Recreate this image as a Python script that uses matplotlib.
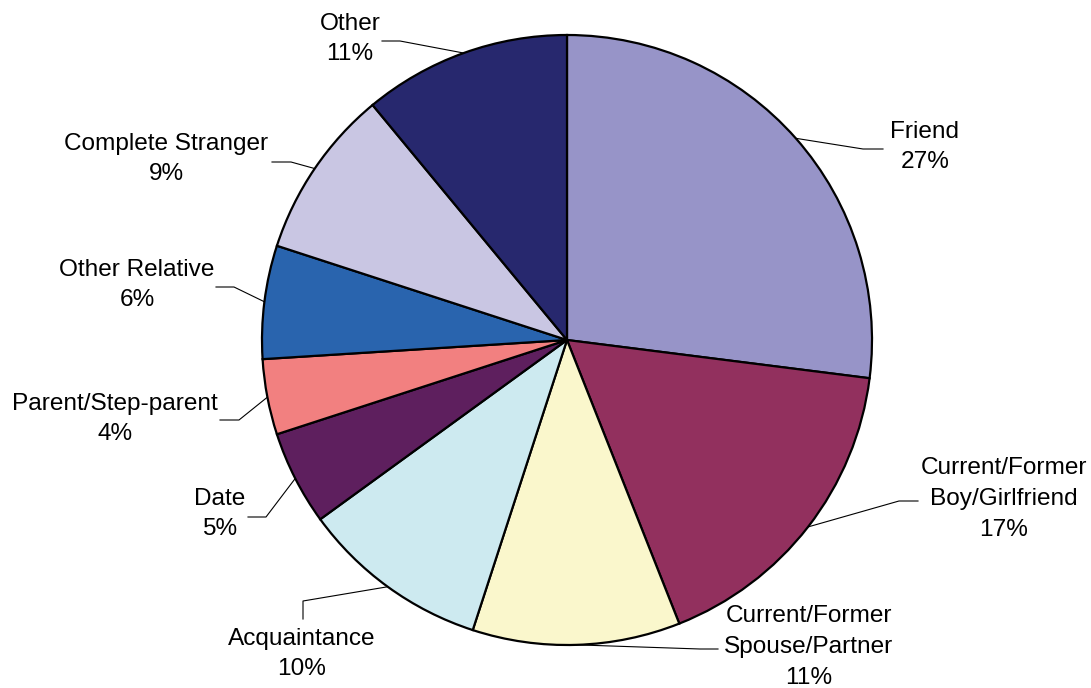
import numpy as np
import matplotlib.pyplot as plt

plt.rcParams['font.family'] = ['Liberation Sans', 'DejaVu Sans']

labels = ['Friend', 'Current/Former\nBoy/Girlfriend', 'Current/Former\nSpouse/Partner',
          'Acquaintance', 'Date', 'Parent/Step-parent', 'Other Relative',
          'Complete Stranger', 'Other']
values = [27, 17, 11, 10, 5, 4, 6, 9, 11]
colors = ['#9794C8', '#92305E', '#FAF7CC', '#CDEAF0', '#5E1F5E',
          '#F28080', '#2964AE', '#C9C6E3', '#27286E']

# label block centre, leader elbow, leader end (pixel layout)
label_pos = [(925, 147), (1004, 499), (809, 647), (302, 654), (220, 514),
             (115, 419), (137, 285), (166, 159), (350, 39)]
elbow = [(863, 149), (899, 501), (700, 649), (303, 601), (266, 517),
         (239, 420), (234, 287), (291, 162), (400, 41)]
line_end = [(883, 149), (918, 501), (718, 649), (303, 619), (248, 517),
            (220, 420), (216, 287), (272, 162), (382, 41)]

fig = plt.figure(figsize=(10.91, 6.88), dpi=100)
ax = fig.add_axes([0, 0, 1, 1])

cx, cy, R = 567, 340, 305
wedges, _ = ax.pie(values, colors=colors, startangle=-90, counterclock=True,
                   center=(cx, cy), radius=R, frame=True,
                   wedgeprops=dict(edgecolor='black', linewidth=1.6))
ax.set_xlim(0, 1091)
ax.set_ylim(688, 0)
ax.set_aspect('equal')
ax.axis('off')

for w, lab, v, tp, el, le in zip(wedges, labels, values, label_pos, elbow, line_end):
    mid = np.deg2rad((w.theta1 + w.theta2) / 2)
    ex, ey = cx + R * np.cos(mid), cy + R * np.sin(mid)
    ax.plot([ex, el[0], le[0]], [ey, el[1], le[1]], color='black', lw=0.8, zorder=0.5)
    ax.text(tp[0], tp[1], f'{lab}\n{v}%', ha='center', va='center',
            fontsize=17.6, linespacing=1.5, color='black')

fig.savefig('out.png', dpi=100)
